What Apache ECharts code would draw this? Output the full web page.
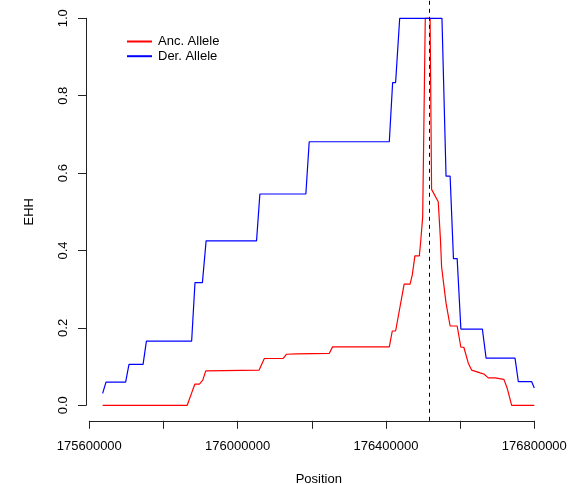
<!DOCTYPE html>
<html>
<head>
<meta charset="utf-8">
<script src="https://cdn.jsdelivr.net/npm/echarts@6/dist/echarts.min.js"></script>
<style>
html,body{margin:0;padding:0;background:#fff;}
#chart{width:574px;height:484px;}
</style>
</head>
<body>
<div id="chart"></div>
<script>
// ---- Data ----
const seriesNames = ['Anc. Allele', 'Der. Allele'];
const xTicks = [175600000, 176000000, 176400000, 176800000];
const yTicks = [0.0, 0.2, 0.4, 0.6, 0.8, 1.0];
const markerPos = 176517000;

const ancPos = [175636000, 175864000, 175879000, 175885000, 175897000, 175906000, 175914000,
  176058000, 176072000, 176123000, 176132000, 176159000, 176247000, 176256000, 176409000,
  176417000, 176426000, 176449000, 176465000, 176471000, 176478000, 176490000, 176494000,
  176499000, 176506000, 176519000, 176523000, 176541000, 176547000, 176550000, 176562000,
  176573000, 176592000, 176602000, 176610000, 176622000, 176631000, 176654000, 176664000,
  176676000, 176694000, 176718000, 176727000, 176739000, 176800000];
const ancEhh = [0, 0, 0.040, 0.055, 0.055, 0.065, 0.089,
  0.091, 0.121, 0.121, 0.132, 0.133, 0.134, 0.151, 0.151,
  0.192, 0.192, 0.313, 0.313, 0.337, 0.386, 0.386, 0.427,
  0.487, 1.0, 1.0, 0.558, 0.526, 0.427, 0.358, 0.264,
  0.205, 0.205, 0.150, 0.150, 0.109, 0.091, 0.084, 0.081,
  0.071, 0.071, 0.067, 0.044, 0, 0];

const derPos = [175636000, 175645000, 175698000, 175707000, 175745000, 175754000, 175876000,
  175885000, 175905000, 175915000, 176051000, 176060000, 176184000, 176193000, 176409000,
  176418000, 176426000, 176437000, 176551000, 176562000, 176573000, 176582000, 176592000,
  176602000, 176660000, 176670000, 176748000, 176757000, 176793000, 176800000];
const derEhh = [0.031, 0.060, 0.060, 0.106, 0.106, 0.166, 0.166,
  0.317, 0.317, 0.425, 0.425, 0.546, 0.546, 0.681, 0.681,
  0.834, 0.834, 1.0, 1.0, 0.592, 0.592, 0.379, 0.379,
  0.197, 0.197, 0.122, 0.122, 0.061, 0.061, 0.045];

// ---- Chart ----
const FONT = '"Liberation Sans", Arial, Helvetica, sans-serif';
const AXC = '#222';
const zip = (a, b) => a.map((v, i) => [v, b[i]]);

const chart = echarts.init(document.getElementById('chart'), null, {renderer: 'canvas'});
chart.setOption({
  animation: false,
  backgroundColor: '#fff',
  textStyle: {fontFamily: FONT},
  legend: {
    data: seriesNames,
    orient: 'vertical',
    left: 121, top: 30,
    itemWidth: 25, itemHeight: 14, itemGap: 1.7,
    itemStyle: {opacity: 0, borderWidth: 0},
    textStyle: {fontSize: 13, color: '#000', fontFamily: FONT, padding: [0, 0, 0, 1]}
  },
  grid: [
    {left: 89.3, right: 39.7, top: 0, bottom: 63.2, containLabel: false, outerBoundsMode: 'none'},
    {left: 86, top: 18.3, height: 387, width: 20, containLabel: false, outerBoundsMode: 'none'}
  ],
  xAxis: [
    {
      gridIndex: 0, type: 'value',
      min: xTicks[0], max: xTicks[xTicks.length - 1], interval: 200000,
      name: 'Position', nameLocation: 'middle', nameGap: 52,
      nameTextStyle: {fontSize: 13, color: '#000', fontFamily: FONT, padding: [0, 0, 0, 14]},
      axisLine: {show: true, onZero: false, lineStyle: {color: AXC, width: 1}},
      axisTick: {show: true, length: 8, lineStyle: {color: AXC, width: 1}},
      axisLabel: {
        fontSize: 13, color: '#000', fontFamily: FONT, margin: 19,
        formatter: v => xTicks.includes(v) ? String(v) : ''
      },
      splitLine: {show: false}
    },
    {gridIndex: 1, type: 'value', show: false, min: 0, max: 1}
  ],
  yAxis: [
    {gridIndex: 0, type: 'value', show: false, min: -0.04, max: 1.0473,
     axisLine: {onZero: false}, splitLine: {show: false}},
    {
      gridIndex: 1, type: 'value', min: yTicks[0], max: yTicks[yTicks.length - 1], interval: 0.2,
      name: 'EHH', nameLocation: 'middle', nameGap: 50,
      nameTextStyle: {fontSize: 13, color: '#000', fontFamily: FONT},
      axisLine: {show: true, onZero: false, lineStyle: {color: AXC, width: 1}},
      axisTick: {show: true, length: 8, lineStyle: {color: AXC, width: 1}},
      axisLabel: {fontSize: 13, color: '#000', fontFamily: FONT, margin: 16, rotate: 90,
        formatter: v => v.toFixed(1)},
      splitLine: {show: false}
    }
  ],
  series: [
    {
      name: seriesNames[0], type: 'line', xAxisIndex: 0, yAxisIndex: 0,
      data: zip(ancPos, ancEhh), symbol: 'none',
      lineStyle: {color: '#ff0000', width: 1.2}, itemStyle: {color: '#ff0000'},
      markLine: {
        silent: true, symbol: ['none', 'none'], label: {show: false},
        lineStyle: {color: '#000', type: [4, 4], width: 1},
        data: [{xAxis: markerPos}]
      }
    },
    {
      name: seriesNames[1], type: 'line', xAxisIndex: 0, yAxisIndex: 0,
      data: zip(derPos, derEhh), symbol: 'none',
      lineStyle: {color: '#0000ff', width: 1.2}, itemStyle: {color: '#0000ff'}
    }
  ]
});
</script>
</body>
</html>
